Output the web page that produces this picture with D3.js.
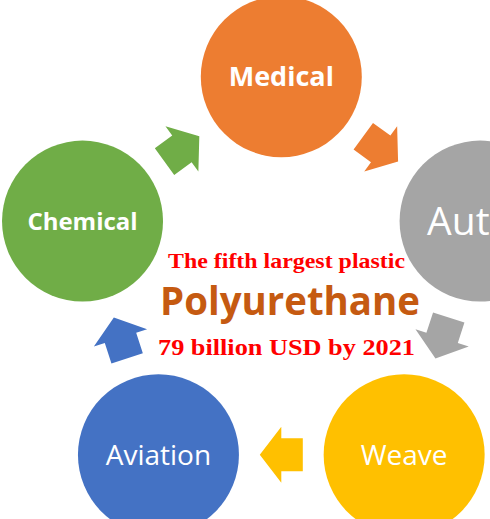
<!DOCTYPE html>
<html>
<head>
<meta charset="utf-8">
<script src="https://cdn.jsdelivr.net/npm/d3@7"></script>
<style>
  html, body { margin: 0; padding: 0; background: #fff; }
  svg { display: block; }
</style>
</head>
<body>
<svg id="chart" width="490" height="519"></svg>
<script>
// ---- data ----
const categories = ["Medical", "Auto", "Weave", "Aviation", "Chemical"];
const titleLines = ["The fifth largest plastic", "Polyurethane", "79 billion USD by 2021"];

// ---- styles ----
const colors = ["#ED7D31", "#A5A5A5", "#FFC000", "#4472C4", "#70AD47"];
const labelSize = [27, 39, 28, 28, 24];
const labelWeight = ["bold", "normal", "normal", "normal", "bold"];
const labelDx = [0, -10, 0, 0, 0];

const svg = d3.select("#chart");
const W = 490, H = 519;
const cx0 = 281.3, cy0 = 285.7, ringR = 209, circR = 80.5;

const angle = d3.scaleLinear().domain([0, categories.length]).range([-Math.PI / 2, 1.5 * Math.PI]);
const nodes = categories.map((c, i) => ({
  name: c, i,
  x: cx0 + ringR * Math.cos(angle(i)),
  y: cy0 + ringR * Math.sin(angle(i))
}));

// arrows (block arrows between consecutive nodes)
const arrowShape = [[-21.5, -16.5], [0, -16.5], [0, -28], [21.5, 0], [0, 28], [0, 16.5], [-21.5, 16.5]];
const line = d3.line();
nodes.forEach((n, i) => {
  const m = nodes[(i + 1) % nodes.length];
  const mx = (n.x + m.x) / 2, my = (n.y + m.y) / 2;
  const a = Math.atan2(m.y - n.y, m.x - n.x) * 180 / Math.PI;
  svg.append("path")
    .attr("d", line(arrowShape) + "Z")
    .attr("transform", `translate(${mx},${my}) rotate(${a})`)
    .attr("fill", colors[i]);
});

// circles
const g = svg.selectAll("g.node").data(nodes).join("g").attr("class", "node");
g.append("circle")
  .attr("cx", d => d.x).attr("cy", d => d.y).attr("r", circR)
  .attr("fill", d => colors[d.i]);
g.append("text")
  .attr("x", d => d.x + labelDx[d.i])
  .attr("y", d => d.y + labelSize[d.i] * 0.36)
  .attr("text-anchor", "middle")
  .attr("fill", "#fff")
  .attr("font-family", "'Open Sans', sans-serif")
  .attr("font-size", d => labelSize[d.i])
  .attr("font-weight", d => labelWeight[d.i])
  .text(d => d.name);

// center text
const tx = 286.5;
svg.append("text").attr("x", tx).attr("y", 268)
  .attr("text-anchor", "middle").attr("fill", "#FF0000")
  .attr("font-family", "'Liberation Serif', 'Times New Roman', serif")
  .attr("font-weight", "bold").attr("font-size", 22)
  .attr("textLength", 237).attr("lengthAdjust", "spacingAndGlyphs")
  .text(titleLines[0]);
svg.append("text").attr("x", tx + 3.5).attr("y", 315)
  .attr("text-anchor", "middle").attr("fill", "#C55A11")
  .attr("font-family", "'Open Sans', sans-serif")
  .attr("font-weight", "bold").attr("font-size", 39)
  .attr("textLength", 260).attr("lengthAdjust", "spacingAndGlyphs")
  .text(titleLines[1]);
svg.append("text").attr("x", tx).attr("y", 355)
  .attr("text-anchor", "middle").attr("fill", "#FF0000")
  .attr("font-family", "'Liberation Serif', 'Times New Roman', serif")
  .attr("font-weight", "bold").attr("font-size", 24)
  .attr("textLength", 257).attr("lengthAdjust", "spacingAndGlyphs")
  .text(titleLines[2]);
</script>
</body>
</html>
